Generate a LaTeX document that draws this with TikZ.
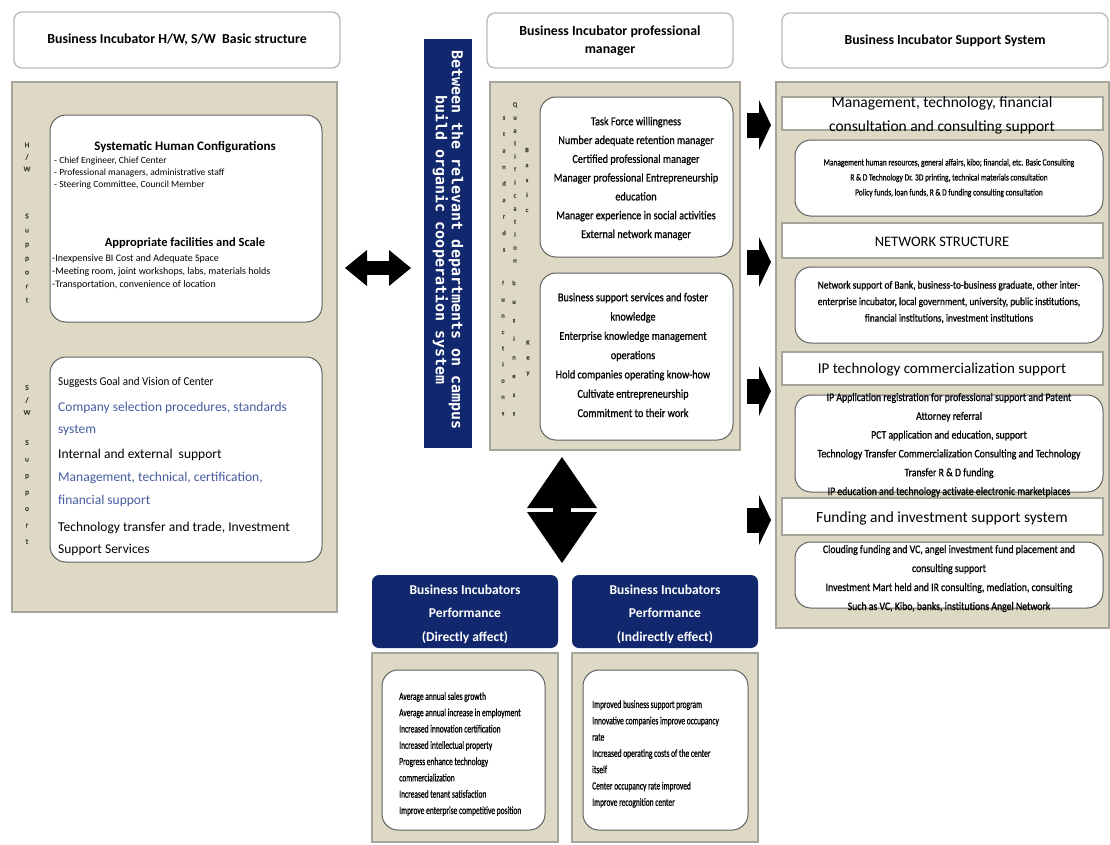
\documentclass[tikz,border=0pt]{standalone}
\usepackage{fontspec}
\setmainfont{Carlito}
\newfontfamily\cA[FakeStretch=0.85,FakeBold=0.8]{Carlito}
\newfontfamily\cB[FakeStretch=0.78,FakeBold=0.7]{Carlito}
\newfontfamily\cC[FakeStretch=0.68,FakeBold=0.8]{Carlito}
\newfontfamily\cD[FakeStretch=0.92]{Carlito}
\newfontfamily\cL[FakeBold=1.5]{Carlito}
\newfontfamily\monob{DejaVu Sans Mono}
\usetikzlibrary{arrows.meta}
\definecolor{beige}{RGB}{221,217,196}
\definecolor{pborder}{RGB}{165,165,155}
\definecolor{navyb}{RGB}{17,40,110}
\definecolor{bluet}{RGB}{70,92,160}
\definecolor{letc}{RGB}{60,60,45}
\tikzset{
  titlebox/.style={draw=gray!55, fill=white, rounded corners=8pt, line width=1.3pt, inner sep=0pt},
  panel/.style={draw=pborder, fill=beige, line width=1.3pt, inner sep=0pt},
  innerbox/.style={draw=gray!75!black, fill=white, rounded corners=16pt, line width=1pt, inner sep=0pt},
  hdrbox/.style={draw=pborder, fill=white, line width=1.2pt, inner sep=0pt},
  navybox/.style={fill=navyb, rounded corners=7pt, inner sep=0pt},
  txt/.style={inner sep=0pt, align=center},
  ltxt/.style={inner sep=0pt, align=left, anchor=west},
  vlet/.style={inner sep=0pt, align=center, text=letc}
}
\begin{document}
\begin{tikzpicture}[x=1pt,y=-1pt]
\useasboundingbox (0,0) rectangle (1110,844);

% ---------- left column ----------
\node[titlebox, minimum width=326pt, minimum height=56pt] (lt) at (177,40) {};
\node[txt, font=\bfseries\fontsize{13.8}{16}\selectfont] (ltt) at (177,40) {Business Incubator H/W, S/W\ \ Basic structure};
\node[panel, minimum width=325pt, minimum height=530pt] (lp) at (174.5,347) {};
\node[innerbox, minimum width=272pt, minimum height=207pt] (lb1) at (186,218.5) {};
\node[innerbox, minimum width=272pt, minimum height=205pt] (lb2) at (186,459.5) {};

\node[vlet, font=\cL\fontsize{7.5}{12}\selectfont] (lv1) at (27,157) {H\\/\\W};
\node[vlet, font=\cL\fontsize{7.5}{14}\selectfont] (lv2) at (27,258) {S\\u\\p\\p\\o\\r\\t};
\node[vlet, font=\cL\fontsize{7.5}{12.5}\selectfont] (lv3) at (27,400) {S\\/\\W};
\node[vlet, font=\cL\fontsize{7.5}{16.5}\selectfont] (lv4) at (27,492) {S\\u\\p\\p\\o\\r\\t};

\node[txt, font=\bfseries\fontsize{13}{15}\selectfont] (u1) at (185,147) {Systematic Human Configurations};
\node[ltxt, font=\fontsize{9.5}{12}\selectfont] (u2) at (54,173) {- Chief Engineer, Chief Center\\- Professional managers, administrative staff\\- Steering Committee, Council Member};
\node[txt, font=\bfseries\fontsize{12.5}{15}\selectfont] (u3) at (185,243) {Appropriate facilities and Scale};
\node[ltxt, font=\fontsize{10}{13}\selectfont] (u4) at (52,272) {-Inexpensive BI Cost and Adequate Space\\-Meeting room, joint workshops, labs, materials holds\\-Transportation, convenience of location};

\node[ltxt, font=\cD\fontsize{12}{14}\selectfont] (l1) at (58,382) {Suggests Goal and Vision of Center};
\node[ltxt, text=bluet, font=\fontsize{13.5}{22}\selectfont] (l2) at (58,419) {Company selection procedures, standards\\system};
\node[ltxt, font=\fontsize{13.5}{16}\selectfont] (l3) at (58,455) {Internal and external\ \ support};
\node[ltxt, text=bluet, font=\fontsize{13.5}{23}\selectfont] (l4) at (58,489.5) {Management, technical, certification,\\financial support};
\node[ltxt, font=\fontsize{13.5}{22}\selectfont] (l5) at (58,539) {Technology transfer and trade, Investment\\Support Services};

% ---------- middle column ----------
\node[fill=navyb, minimum width=48pt, minimum height=409pt, inner sep=0pt] (bar) at (448,243.5) {};
\node[txt, rotate=-90, text=white, font=\monob\bfseries\fontsize{15}{16}\selectfont] (bart) at (448,240) {Between the relevant departments on campus\\build organic cooperation system};

\node[titlebox, minimum width=246pt, minimum height=55pt] (mt) at (610,40.5) {};
\node[txt, font=\bfseries\fontsize{13.8}{18}\selectfont] (mtt) at (610,41) {Business Incubator professional\\manager};
\node[panel, minimum width=250pt, minimum height=368pt] (mp) at (615,266) {};
\node[innerbox, minimum width=193pt, minimum height=160pt] (mb1) at (636.5,177) {};
\node[innerbox, minimum width=193pt, minimum height=167pt] (mb2) at (636.5,356.5) {};

\node[vlet, font=\cL\fontsize{6.5}{16.5}\selectfont] (mv1) at (504,184) {s\\t\\a\\n\\d\\a\\r\\d\\s};
\node[vlet, font=\cL\fontsize{6.5}{13}\selectfont] (mv2) at (515,182.5) {Q\\u\\a\\l\\i\\f\\i\\c\\a\\t\\i\\o\\n};
\node[vlet, font=\cL\fontsize{6.5}{15}\selectfont] (mv3) at (527,180) {B\\a\\s\\i\\c};
\node[vlet, font=\cL\fontsize{6.5}{16.25}\selectfont] (mv4) at (503,348) {f\\u\\n\\c\\t\\i\\o\\n\\s};
\node[vlet, font=\cL\fontsize{6.5}{18.6}\selectfont] (mv5) at (514,348) {b\\u\\s\\i\\n\\e\\s\\s};
\node[vlet, font=\cL\fontsize{6.5}{15}\selectfont] (mv6) at (528,358) {K\\e\\y};

\node[txt, font=\cA\fontsize{12}{18.8}\selectfont] (m1t) at (636,178.5) {Task Force willingness\\Number adequate retention manager\\Certified professional manager\\Manager professional Entrepreneurship\\education\\Manager experience in social activities\\External network manager};
\node[txt, font=\cA\fontsize{12}{19.3}\selectfont] (m2t) at (633,355) {Business support services and foster\\knowledge\\Enterprise knowledge management\\operations\\Hold companies operating know-how\\Cultivate entrepreneurship\\Commitment to their work};

% ---------- right column ----------
\node[titlebox, minimum width=326pt, minimum height=55pt] (rt) at (945,40.5) {};
\node[txt, font=\bfseries\fontsize{13.8}{16}\selectfont] (rtt) at (945,40.5) {Business Incubator Support System};
\node[panel, minimum width=333pt, minimum height=546pt] (rp) at (942.5,355) {};

\node[hdrbox, minimum width=321pt, minimum height=33pt] (h1) at (942.5,113.5) {};
\node[innerbox, minimum width=308pt, minimum height=76pt] (r1) at (949,178) {};
\node[hdrbox, minimum width=321pt, minimum height=35pt] (h2) at (942.5,240.5) {};
\node[innerbox, minimum width=308pt, minimum height=76pt] (r2) at (949,305) {};
\node[hdrbox, minimum width=321pt, minimum height=33pt] (h3) at (942.5,368.5) {};
\node[innerbox, minimum width=308pt, minimum height=97pt] (r3) at (949,443.5) {};
\node[hdrbox, minimum width=321pt, minimum height=37pt] (h4) at (942.5,516.5) {};
\node[innerbox, minimum width=308pt, minimum height=66pt] (r4) at (949,575) {};

\node[txt, font=\fontsize{15.5}{24}\selectfont] (h1t) at (942,115) {Management, technology, financial\\consultation and consulting support};
\node[txt, font=\fontsize{14.5}{16}\selectfont] (h2t) at (942,242) {NETWORK STRUCTURE};
\node[txt, font=\fontsize{15}{16}\selectfont] (h3t) at (942,370) {IP technology commercialization support};
\node[txt, font=\fontsize{15.5}{16}\selectfont] (h4t) at (942,518) {Funding and investment support system};

\node[txt, font=\cB\fontsize{9.5}{15}\selectfont] (r1t) at (949,178) {Management human resources, general affairs, kibo; financial, etc. Basic Consulting\\R \& D Technology Dr. 3D printing, technical materials consultation\\Policy funds, loan funds, R \& D funding consulting consultation};
\node[txt, font=\cA\fontsize{11}{16.5}\selectfont] (r2t) at (949,302) {Network support of Bank, business-to-business graduate, other inter-\\enterprise incubator, local government, university, public institutions,\\financial institutions, investment institutions};
\node[txt, font=\cA\fontsize{11.5}{18.8}\selectfont] (r3t) at (949,445) {IP Application registration for professional support and Patent\\Attorney referral\\PCT application and education, support\\Technology Transfer Commercialization Consulting and Technology\\Transfer R \& D funding\\IP education and technology activate electronic marketplaces};
\node[txt, font=\cA\fontsize{11.5}{19}\selectfont] (r4t) at (949,578.5) {Clouding funding and VC, angel investment fund placement and\\consulting support\\Investment Mart held and IR consulting, mediation, consulting\\Such as VC, Kibo, banks, institutions Angel Network};

% ---------- bottom ----------
\node[navybox, minimum width=186pt, minimum height=73pt] (n1) at (465,611.5) {};
\node[navybox, minimum width=186pt, minimum height=73pt] (n2) at (665,611.5) {};
\node[txt, text=white, font=\bfseries\fontsize{13.5}{23.5}\selectfont] (n1t) at (465,614) {Business Incubators\\Performance\\(Directly affect)};
\node[txt, text=white, font=\bfseries\fontsize{13.5}{23.5}\selectfont] (n2t) at (665,614) {Business Incubators\\Performance\\(Indirectly effect)};
\node[panel, minimum width=186pt, minimum height=189pt] (bp1) at (465,747.5) {};
\node[panel, minimum width=186pt, minimum height=189pt] (bp2) at (665,747.5) {};
\node[innerbox, minimum width=163pt, minimum height=160pt] (bb1) at (463.5,750) {};
\node[innerbox, minimum width=165pt, minimum height=160pt] (bb2) at (665.5,750) {};
\node[ltxt, font=\cC\fontsize{11}{16.3}\selectfont] (b1t) at (399,754) {Average annual sales growth\\Average annual increase in employment\\Increased innovation certification\\Increased intellectual property\\Progress enhance technology\\commercialization\\Increased tenant satisfaction\\Improve enterprise competitive position};
\node[ltxt, font=\cC\fontsize{11}{16.3}\selectfont] (b2t) at (592,754) {Improved business support program\\Innovative companies improve occupancy\\rate\\Increased operating costs of the center\\itself\\Center occupancy rate improved\\Improve recognition center};

% ---------- block arrows ----------
\coordinate (ha1) at (345,268);
\coordinate (ha2) at (411,268);
\draw[line width=14pt, {Triangle[width=36pt,length=22pt,line width=0pt]}-{Triangle[width=36pt,length=22pt,line width=0pt]}] (ha1) -- (ha2);

\coordinate (va1) at (562,457);
\coordinate (va2) at (562,563);
\draw[line width=18pt, {Triangle[width=70pt,length=51pt,line width=0pt]}-{Triangle[width=70pt,length=51pt,line width=0pt]}] (va1) -- (va2);

\foreach \yy/\nm in {125/a,262/b,391/c,520/d}{
  \coordinate (rs\nm) at (747,\yy);
  \coordinate (re\nm) at (771,\yy);
  \draw[line width=25pt, -{Triangle[width=50pt,length=12pt,line width=0pt]}] (rs\nm) -- (re\nm);
}
\end{tikzpicture}
\end{document}
